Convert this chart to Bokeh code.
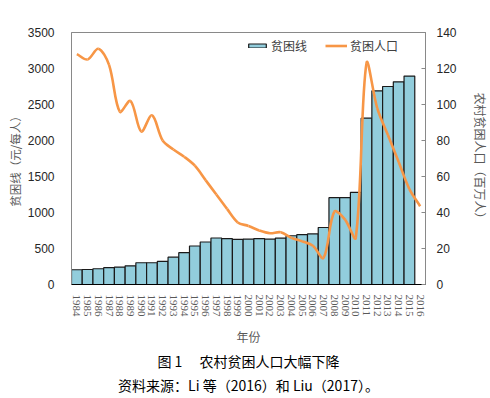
import numpy as np
from bokeh.plotting import figure
from bokeh.models import Range1d, LinearAxis, FixedTicker, Legend, LegendItem, Title
from bokeh.embed import file_html
from bokeh.resources import INLINE

years = list(range(1984, 2017))
year_labels = [str(y) for y in years]
bar_years = list(range(1984, 2016))
poverty_line = [205, 208, 219, 233, 242, 260, 302, 302, 321, 380, 442, 535, 590, 646, 637, 628,
                630, 638, 630, 643, 677, 692, 703, 792, 1206, 1206, 1280, 2310, 2690, 2750, 2815, 2895]
poor_pop = [128, 125, 131, 122, 96, 102, 85, 94, 80, 75, 71, 66, 58, 50, 42, 34.5,
            32.5, 30, 28.5, 29, 26, 24, 21.5, 14.8, 40.5, 36, 26, 123, 98, 83, 68, 53, 43.5]
left_ticks = [0, 500, 1000, 1500, 2000, 2500, 3000, 3500]
right_ticks = [0, 20, 40, 60, 80, 100, 120, 140]

CJK = "Noto Sans CJK SC"
FW, FH = 354, 252
X0, X1 = 1983.5, 2016.5
R_MAX = 140

p = figure(frame_width=FW, frame_height=FH, output_backend="svg", toolbar_location=None,
           x_range=Range1d(X0, X1), y_range=Range1d(0, 3500),
           min_border_left=71, min_border_top=32, min_border_right=5, min_border_bottom=3)
p.extra_y_ranges = {"right": Range1d(0, R_MAX)}
p.xgrid.visible = False
p.ygrid.visible = False
p.outline_line_color = "#898989"
p.outline_line_width = 1

bars = p.vbar(x=bar_years, top=poverty_line, bottom=0, width=1.0,
              fill_color="#92CDDC", line_color="#1a1a1a", line_width=1.2)

# smoothed line through the data points: cubic Bezier segments whose control
# points follow the neighbouring points (spreadsheet-style smoothing)
sx = FW / (X1 - X0)
sy = FH / R_MAX
P = np.column_stack([np.array(years, float) * sx, np.array(poor_pop, float) * sy])
n = len(P)
prev_pts = np.vstack([P[:1], P[:-1]])
next_pts = np.vstack([P[1:], P[-1:]])
T = next_pts - prev_pts
d = np.hypot(*(P[1:] - P[:-1]).T)          # segment lengths, n-1
d_before = np.concatenate([[0.0], d])       # length of segment ending at point i
d_after = np.concatenate([d, [0.0]])        # length of segment starting at point i
c_out = P[:-1] + T[:-1] * (d / (d_before[:-1] + d))[:, None] / 3.0
c_in = P[1:] - T[1:] * (d / (d + d_after[1:]))[:, None] / 3.0
curve = p.bezier(x0=P[:-1, 0] / sx, y0=P[:-1, 1] / sy, x1=P[1:, 0] / sx, y1=P[1:, 1] / sy,
                 cx0=c_out[:, 0] / sx, cy0=c_out[:, 1] / sy,
                 cx1=c_in[:, 0] / sx, cy1=c_in[:, 1] / sy,
                 line_color="#F79646", line_width=2.6, y_range_name="right")

# axes
xa = p.xaxis[0]
xa.ticker = FixedTicker(ticks=years)
xa.major_label_overrides = {yr: lab for yr, lab in zip(years, year_labels)}
xa.major_label_orientation = "vertical"
xa.major_label_text_font = "Liberation Serif"
xa.major_label_text_font_size = "11px"
xa.major_label_text_color = "#595959"
xa.major_label_standoff = 4
xa.major_tick_line_color = None
xa.minor_tick_line_color = None
xa.axis_line_color = "#000000"
xa.axis_line_width = 1.2
xa.axis_label = "年份"
xa.axis_label_text_font = CJK
xa.axis_label_text_font_size = "12px"
xa.axis_label_text_font_style = "normal"
xa.axis_label_text_color = "#595959"
xa.axis_label_standoff = 8

ya = p.yaxis[0]
ya.ticker = FixedTicker(ticks=left_ticks)
ya.major_label_text_font = "Liberation Sans"
ya.major_label_text_font_size = "12px"
ya.major_label_text_color = "#262626"
ya.major_label_standoff = 11
ya.major_tick_line_color = None
ya.minor_tick_line_color = None
ya.axis_line_color = "#898989"
ya.axis_label = "贫困线（元/每人）"
ya.axis_label_text_font = CJK
ya.axis_label_text_font_size = "11.5px"
ya.axis_label_text_font_style = "normal"
ya.axis_label_text_color = "#595959"
ya.axis_label_standoff = 2

ra = LinearAxis(y_range_name="right", ticker=FixedTicker(ticks=right_ticks))
ra.major_label_text_font = "Liberation Sans"
ra.major_label_text_font_size = "12px"
ra.major_label_text_color = "#262626"
ra.major_label_standoff = 11
ra.major_tick_in = 4
ra.major_tick_out = 0
ra.major_tick_line_color = "#898989"
ra.minor_tick_line_color = None
ra.axis_line_color = "#898989"
ra.axis_label = "农村贫困人口（百万人）"
ra.axis_label_orientation = "vertical"
ra.axis_label_text_font = CJK
ra.axis_label_text_font_size = "12px"
ra.axis_label_text_font_style = "normal"
ra.axis_label_text_color = "#595959"
ra.axis_label_standoff = 12
p.add_layout(ra, "right")

legend = Legend(items=[LegendItem(label="贫困线", renderers=[bars]),
                       LegendItem(label="贫困人口", renderers=[curve])],
                orientation="horizontal", location=(175, 230))
legend.border_line_color = None
legend.background_fill_alpha = 0
legend.label_text_font = CJK
legend.label_text_font_size = "12px"
legend.label_text_color = "#404040"
legend.glyph_width = 22
legend.glyph_height = 5
legend.label_height = 14
legend.label_standoff = 3
legend.spacing = 18
legend.margin = 0
legend.padding = 0
p.add_layout(legend)

t1 = Title(text="图 1\u3000 农村贫困人口大幅下降", align="center", text_font=CJK,
           text_font_size="14px", text_font_style="normal", text_color="#000000",
           standoff=3, offset=0)
t2 = Title(text="资料来源：Li 等（2016）和 Liu（2017）。", align="center", text_font=CJK,
           text_font_size="14px", text_font_style="normal", text_color="#000000",
           standoff=0, offset=0)
p.add_layout(t1, "below")
p.add_layout(t2, "below")

open("out.html", "w").write(file_html(p, INLINE))
